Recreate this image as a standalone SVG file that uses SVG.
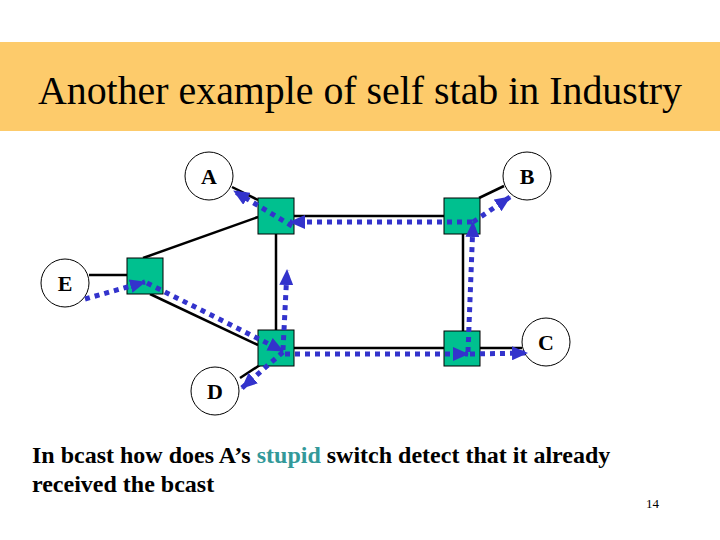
<svg xmlns="http://www.w3.org/2000/svg" width="720" height="540" viewBox="0 0 720 540">
<style>
text{font-family:"Liberation Serif","Times New Roman",serif}
.title{font-size:40px;fill:#000}
.lbl{font-size:22px;font-weight:bold;fill:#000;text-anchor:middle}
.body{font-size:24px;font-weight:bold;fill:#000}
.num{font-size:13px;fill:#000}
.circ{fill:#fff;stroke:#000;stroke-width:1}
.sw{fill:#00C08F;stroke:#000;stroke-width:1}
.link{stroke:#000;stroke-width:2.5;fill:none}
.flow{stroke:#3333CC;stroke-width:5;stroke-dasharray:5 5;fill:none;marker-end:url(#ah)}
</style>
<defs>
<marker id="ah" markerUnits="userSpaceOnUse" markerWidth="16" markerHeight="14" refX="15" refY="7" orient="auto">
<path d="M0,0 L16,7 L0,14 Z" fill="#3333CC"/>
</marker>
</defs>
<rect x="0" y="42" width="720" height="89" fill="#FDCB6B"/>
<text class="title" x="360" y="104" text-anchor="middle" textLength="644" lengthAdjust="spacingAndGlyphs">Another example of self stab in Industry</text>
<g id="links">
<line class="link" x1="232" y1="187" x2="258" y2="200"/>
<line class="link" x1="143" y1="258" x2="258" y2="217"/>
<line class="link" x1="294" y1="216" x2="444" y2="216"/>
<line class="link" x1="276" y1="234" x2="276" y2="330"/>
<line class="link" x1="479" y1="198" x2="504" y2="186"/>
<line class="link" x1="463" y1="234" x2="463" y2="331"/>
<line class="link" x1="89" y1="275" x2="127" y2="275"/>
<line class="link" x1="150" y1="294" x2="258" y2="345"/>
<line class="link" x1="294" y1="348" x2="444" y2="348"/>
<line class="link" x1="480" y1="348" x2="522" y2="348"/>
<line class="link" x1="240" y1="378" x2="260" y2="365"/>
</g>
<g id="A"><circle class="circ" cx="209" cy="176" r="24"/><text class="lbl" x="209" y="184">A</text></g>
<g id="B"><circle class="circ" cx="527" cy="176" r="24"/><text class="lbl" x="527" y="184">B</text></g>
<g id="E"><circle class="circ" cx="65" cy="283" r="24"/><text class="lbl" x="65" y="291">E</text></g>
<g id="C"><circle class="circ" cx="546" cy="342" r="24"/><text class="lbl" x="546" y="350">C</text></g>
<g id="D"><circle class="circ" cx="215" cy="391" r="24"/><text class="lbl" x="215" y="399">D</text></g>
<g id="SA"><rect class="sw" x="258" y="198" width="36" height="36"/></g>
<g id="SB"><rect class="sw" x="444" y="198" width="36" height="36"/></g>
<g id="SE"><rect class="sw" x="127" y="258" width="36" height="36"/></g>
<g id="SD"><rect class="sw" x="258" y="330" width="36" height="36"/></g>
<g id="SC"><rect class="sw" x="444" y="331" width="36" height="35"/></g>
<g id="flows">
<path class="flow" d="M85,299 L145,282"/>
<path class="flow" d="M147,283 L283,351"/>
<path class="flow" d="M283,352 L242,388"/>
<path class="flow" d="M283,350 L287,270"/>
<path class="flow" d="M285,354 L468,354"/>
<path class="flow" d="M470,354 L527,353"/>
<path class="flow" d="M468,352 L473,222"/>
<path class="flow" d="M473,222 L510,197"/>
<path class="flow" d="M472,222 L290,222"/>
<path class="flow" d="M292,226 L234,191"/>
</g>
<text class="body" x="32" y="463">In bcast how does A’s <tspan fill="#339999">stupid</tspan> switch detect that it already</text>
<text class="body" x="32" y="492">received the bcast</text>
<text class="num" x="646" y="508">14</text>
</svg>
